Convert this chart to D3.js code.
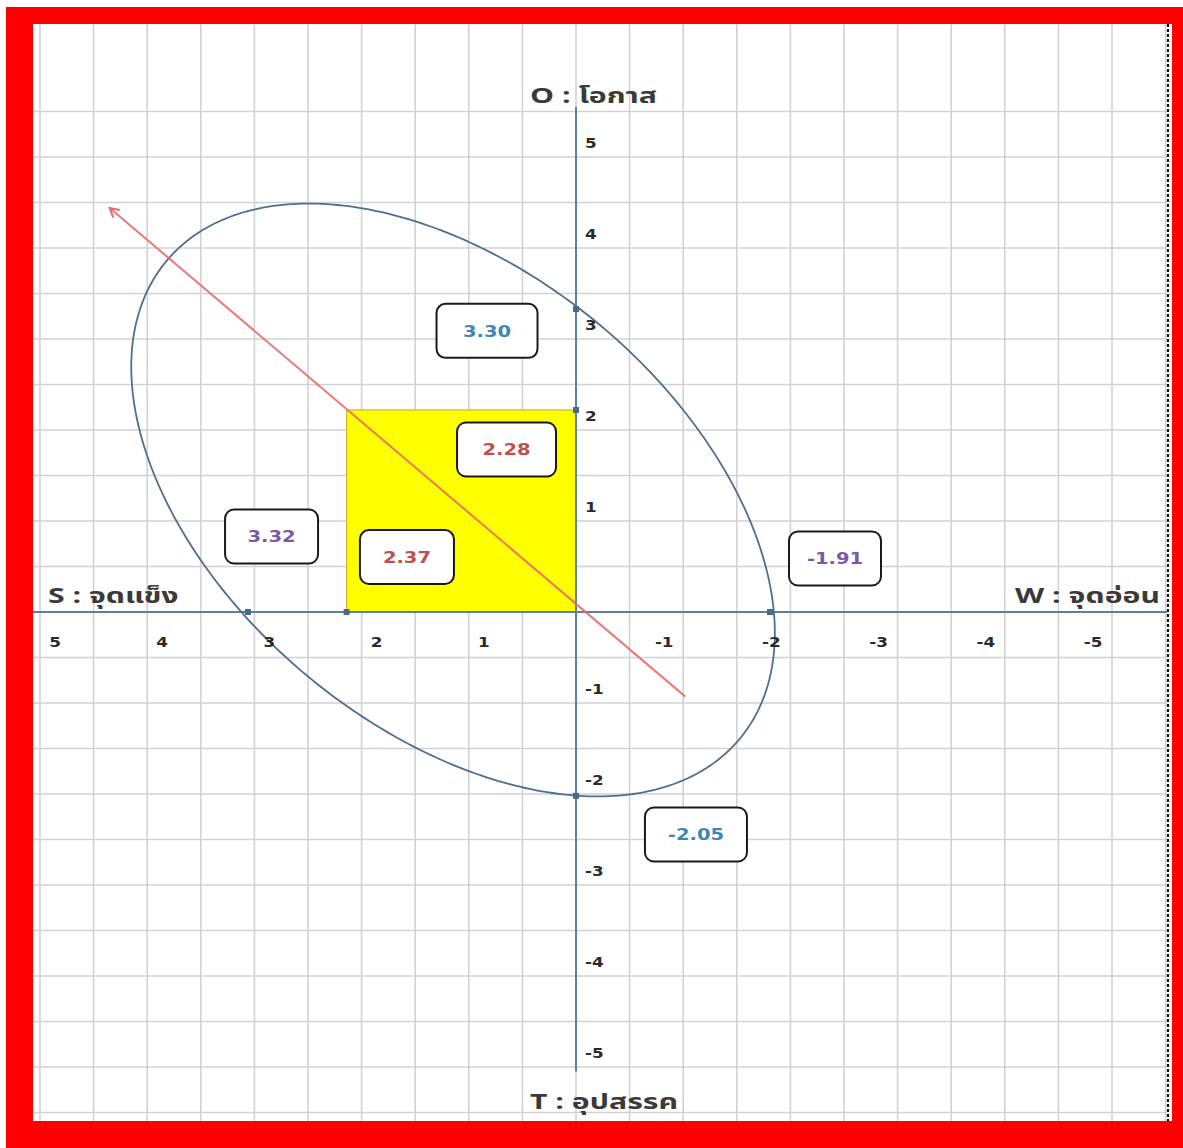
<!DOCTYPE html>
<html>
<head>
<meta charset="utf-8">
<script src="https://cdnjs.cloudflare.com/ajax/libs/d3/7.8.5/d3.min.js"></script>
<style>
  html, body { margin: 0; padding: 0; background: #ffffff; }
  svg { display: block; }
</style>
</head>
<body>
<script>
// ---------------- data ----------------
const xTickValues = [5, 4, 3, 2, 1, -1, -2, -3, -4, -5];
const yTickValues = [5, 4, 3, 2, 1, -1, -2, -3, -4, -5];
const axisNames = ["O : โอกาส", "S : จุดแข็ง", "W : จุดอ่อน", "T : อุปสรรค"];
// yellow square: corner (S, O)
const squareCorner = [2.14, 2.22];
// points where the ellipse meets the axes
const axisMarkerX = [3.06, 2.14, -1.81];
const axisMarkerY = [3.33, 2.22, -2.02];
// ellipse: centre and two conjugate semi-axis vectors (data units)
const ellipseCenter = [1.147, 1.231];
const ellipseAxisA = [-2.674, -2.625];
const ellipseAxisB = [1.364, -1.929];
// strategy arrow: start and end (data units)
const arrowStart = [-1.02, -0.93];
const arrowEnd = [4.35, 4.44];
// value boxes
const boxLabels = ["3.30", "2.28", "3.32", "2.37", "-1.91", "-2.05"];
const boxAnchorX = [0.83, 0.648, 2.84, 1.577, -2.416, -1.119];
const boxAnchorY = [3.09, 1.786, 0.83, 0.604, 0.588, -2.445];

// ---------------- layout ----------------
const W = 1183, H = 1148;
const boxW = [101, 99, 93, 94, 92, 102];
const boxColors = ["#3f86b3", "#c0504d", "#7a5aa6", "#c0504d", "#7a5aa6", "#3f86b3"];

const svg = d3.select("body").append("svg").attr("width", W).attr("height", H);

// frame
svg.append("rect").attr("x", 6).attr("y", 7).attr("width", W - 6).attr("height", H - 7).attr("fill", "#ff0000");
svg.append("rect").attr("x", 33).attr("y", 24).attr("width", 1139).attr("height", 1097).attr("fill", "#ffffff");

// scales (x axis runs from S on the left to W on the right)
const x = d3.scaleLinear().domain([5, -5]).range([40, 1112]);
const y = d3.scaleLinear().domain([5, -5]).range([157, 1067]);

// spreadsheet grid: two cells per unit
const gridX = d3.range(5.5, -5.51, -0.5).filter(v => x(v) > 33 && x(v) < 1168);
const gridY = d3.range(5.5, -5.6, -0.5).filter(v => y(v) > 24 && y(v) < 1121);
const grid = svg.append("g").attr("stroke", "#d2d2d6").attr("stroke-width", 1.6);
grid.selectAll("line.gx").data(gridX).join("line")
  .attr("x1", d => x(d)).attr("x2", d => x(d)).attr("y1", 24).attr("y2", 1121);
grid.selectAll("line.gy").data(gridY).join("line")
  .attr("x1", 33).attr("x2", 1167).attr("y1", d => y(d)).attr("y2", d => y(d));

// dashed right border
svg.append("line").attr("x1", 1168).attr("x2", 1168).attr("y1", 24).attr("y2", 1121)
  .attr("stroke", "#111").attr("stroke-width", 2.2).attr("stroke-dasharray", "3,2");

// yellow square
svg.append("rect")
  .attr("x", x(squareCorner[0])).attr("y", y(squareCorner[1]))
  .attr("width", x(0) - x(squareCorner[0])).attr("height", y(0) - y(squareCorner[1]))
  .attr("fill", "#ffff00").attr("stroke", "#d8b030").attr("stroke-width", 1.2);

// axes
const axisColor = "#5d7fa3";
svg.append("line").attr("x1", 33).attr("x2", 1167).attr("y1", y(0)).attr("y2", y(0))
  .attr("stroke", axisColor).attr("stroke-width", 2);
svg.append("line").attr("x1", x(0)).attr("x2", x(0)).attr("y1", y(5.55)).attr("y2", y(-5.05))
  .attr("stroke", axisColor).attr("stroke-width", 2);

// ellipse
const ts = d3.range(0, 2 * Math.PI + 0.001, Math.PI / 180);
const ellipsePts = ts.map(t => [
  ellipseCenter[0] + Math.cos(t) * ellipseAxisA[0] + Math.sin(t) * ellipseAxisB[0],
  ellipseCenter[1] + Math.cos(t) * ellipseAxisA[1] + Math.sin(t) * ellipseAxisB[1]
]);
svg.append("path").datum(ellipsePts)
  .attr("d", d3.line().x(d => x(d[0])).y(d => y(d[1])).curve(d3.curveLinearClosed))
  .attr("fill", "none").attr("stroke", "#4f6f8f").attr("stroke-width", 1.8);

// markers on axes
const markers = axisMarkerX.map(v => [v, 0]).concat(axisMarkerY.map(v => [0, v]));
svg.selectAll("rect.mk").data(markers).join("rect")
  .attr("x", d => x(d[0]) - 3).attr("y", d => y(d[1]) - 3)
  .attr("width", 6).attr("height", 6).attr("fill", "#4a6a8c");

// arrow
const defs = svg.append("defs");
defs.append("marker").attr("id", "arr").attr("viewBox", "0 0 12 12")
  .attr("refX", 10).attr("refY", 6).attr("markerWidth", 12).attr("markerHeight", 12)
  .attr("markerUnits", "userSpaceOnUse").attr("orient", "auto")
  .append("path").attr("d", "M1,1 L10,6 L1,11").attr("fill", "none")
  .attr("stroke", "#e86a6a").attr("stroke-width", 2);
svg.append("line")
  .attr("x1", x(arrowStart[0])).attr("y1", y(arrowStart[1]))
  .attr("x2", x(arrowEnd[0])).attr("y2", y(arrowEnd[1]))
  .attr("stroke", "#e86a6a").attr("stroke-width", 2).attr("stroke-opacity", 0.9)
  .attr("marker-end", "url(#arr)");

// tick labels
const tickFont = "'DejaVu Sans', Verdana, sans-serif";
svg.selectAll("text.xt").data(xTickValues).join("text")
  .attr("transform", d => `translate(${x(d) + (d > 0 ? 15 : -19)},${y(0) + 35}) scale(1.2,1)`)
  .attr("text-anchor", "middle").attr("font-family", tickFont).attr("font-size", 14)
  .attr("font-weight", "bold").attr("fill", "#2a2a2a").text(d => d);
svg.selectAll("text.yt").data(yTickValues).join("text")
  .attr("transform", d => `translate(${x(0) + 9},${y(d) - 9}) scale(1.2,1)`)
  .attr("text-anchor", "start").attr("font-family", tickFont).attr("font-size", 14)
  .attr("font-weight", "bold").attr("fill", "#2a2a2a").text(d => d);

// axis names
const thaiFont = "'Noto Sans Thai', Tahoma, 'Noto Sans', 'DejaVu Sans', sans-serif";
const namePos = [
  {x: x(0) - 46, y: y(5.55) - 4, anchor: "start"},
  {x: x(5) + 8, y: y(0) - 9, anchor: "start"},
  {x: 1160, y: y(0) - 9, anchor: "end"},
  {x: x(0) - 46, y: 1109, anchor: "start"}
];
svg.selectAll("text.an").data(axisNames).join("text")
  .attr("transform", (d, i) => `translate(${namePos[i].x},${namePos[i].y}) scale(1.44,1)`)
  .attr("text-anchor", (d, i) => namePos[i].anchor)
  .attr("font-family", thaiFont).attr("font-size", 21).attr("font-weight", "bold")
  .attr("fill", "#3a3a3a").text(d => d);

// value boxes
const boxH = 54;
const boxes = svg.selectAll("g.box").data(boxLabels).join("g")
  .attr("transform", (d, i) => `translate(${x(boxAnchorX[i])},${y(boxAnchorY[i])})`);
boxes.append("rect")
  .attr("x", (d, i) => -boxW[i] / 2).attr("y", -boxH / 2)
  .attr("width", (d, i) => boxW[i]).attr("height", boxH)
  .attr("rx", 9).attr("ry", 9)
  .attr("fill", "#ffffff").attr("stroke", "#1a1a1a").attr("stroke-width", 2);
boxes.append("text")
  .attr("transform", "scale(1.22,1)")
  .attr("text-anchor", "middle").attr("dy", "0.36em")
  .attr("font-family", tickFont).attr("font-size", 16).attr("font-weight", "bold")
  .attr("fill", (d, i) => boxColors[i]).text(d => d);
</script>
</body>
</html>
